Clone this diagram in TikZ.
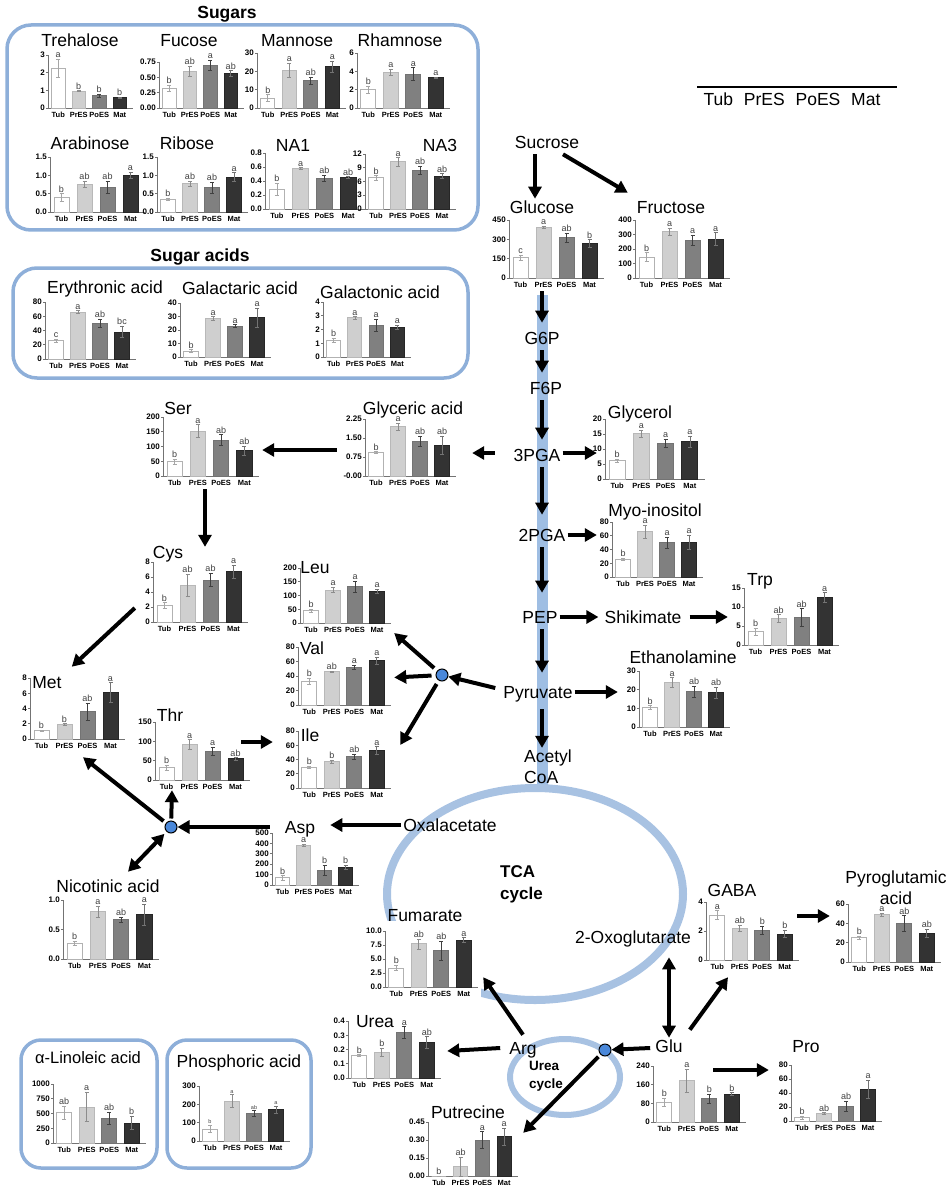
\documentclass[tikz,border=0pt]{standalone}
\usepackage{fontspec}
\setmainfont{Liberation Sans}
\usetikzlibrary{arrows.meta,positioning}

\definecolor{boxblue}{HTML}{8EAFD9}
\definecolor{bandblue}{HTML}{9FBEE3}
\definecolor{cycleblue}{HTML}{A8C2E2}
\definecolor{dotblue}{HTML}{4A88DA}

\tikzset{
  arr/.style={line width=4pt, -{Triangle[length=12pt,width=13pt]}},
  dblarr/.style={line width=4pt, {Triangle[length=12pt,width=13pt]}-{Triangle[length=12pt,width=13pt]}},
  metab/.style={font=\fontsize{17.5}{21}\selectfont, text height=12.5pt, text depth=3.7pt, inner sep=2pt},
  metabtwo/.style={font=\fontsize{17.5}{21}\selectfont, align=left, inner sep=2pt},
  grouptitle/.style={font=\bfseries\fontsize{17.5}{21}\selectfont, text height=12.5pt, text depth=3.7pt},
  groupbox/.style={draw=boxblue, line width=3.5pt, rounded corners=24pt},
  junction/.style={circle, draw=black, line width=1pt, fill=dotblue, minimum size=12pt, inner sep=0pt},
  chartbg/.style={inner sep=0pt},
  axisline/.style={draw=black!55, line width=0.7pt},
  ticklab/.style={font=\bfseries\fontsize{8}{9}\selectfont, anchor=east, inner sep=1pt},
  xlab/.style={font=\bfseries\fontsize{7.5}{9}\selectfont, inner sep=0pt},
  siglab/.style={font=\fontsize{9}{10}\selectfont, text=black!75, anchor=south, inner sep=1.2pt},
  bar0/.style={draw=black!30, fill=white, line width=0.8pt},
  bar1/.style={draw=black!28, fill=black!19, line width=0.8pt},
  bar2/.style={draw=black!55, fill=black!50, line width=0.8pt},
  bar3/.style={draw=black!85, fill=black!80, line width=0.8pt},
  err0/.style={draw=black!35, line width=0.6pt},
  err1/.style={draw=black!45, line width=0.6pt},
  err2/.style={draw=black!75, line width=0.6pt},
  err3/.style={draw=black!55, line width=0.6pt},
}

% [opts]{name}{axis origin}{width}{height}{max}{ticks}{bars: value/error/letter}
\newcommand{\barchart}[8][]{%
  \begin{scope}[shift={#3},#1]
    \def\cW{#4}\def\cH{#5}\def\cM{#6}
    \node[chartbg, minimum width={(#4+28)*1pt}, minimum height={(#5+23)*1pt}] (#2) at ({(#4-16)/2},{(3-#5)/2}) {};
    \draw[axisline] (0,-\cH) -- (0,0) -- (\cW+3,0);
    \foreach \tv/\tl in {#7}{
      \draw[axisline] (0,{0-\tv/\cM*\cH}) -- (-2,{0-\tv/\cM*\cH});
      \node[ticklab] at (-2,{0-\tv/\cM*\cH}) {\tl};
    }
    \foreach \bv/\be/\bl [count=\bi from 0] in {#8}{
      \pgfmathsetmacro\barX{(\bi+0.5)*\cW/4}
      \pgfmathsetmacro\barW{0.33*\cW/4}
      \pgfmathsetmacro\barH{\bv/\cM*\cH}
      \pgfmathsetmacro\errT{(\bv+\be)/\cM*\cH}
      \pgfmathsetmacro\errB{(\bv-\be)/\cM*\cH}
      \draw[bar\bi] ({\barX-\barW},0) rectangle ({\barX+\barW},{0-\barH});
      \draw[err\bi] (\barX,{0-(\errB)}) -- (\barX,{0-(\errT)})
        ({\barX-2},{0-(\errT)}) -- ({\barX+2},{0-(\errT)})
        ({\barX-2},{0-(\errB)}) -- ({\barX+2},{0-(\errB)});
      \node[siglab] at (\barX,{0-(\errT)}) {\bl};
    }
    \foreach \xl [count=\bi from 0] in {Tub,PrES,PoES,Mat}
      \node[xlab] at ({(\bi+0.5)*\cW/4},7) {\xl};
  \end{scope}}

\begin{document}
\begin{tikzpicture}[x=1pt,y=-1pt]
\useasboundingbox (0,0) rectangle (952,1190);

% group boxes, glycolysis band and cycles
\draw[groupbox] (7,25) rectangle (478,230);
\draw[groupbox] (13,268) rectangle (468,378);
\draw[groupbox, rounded corners=20pt] (21,1040) rectangle (157,1168);
\draw[groupbox, rounded corners=20pt] (167,1040) rectangle (311,1168);
\fill[bandblue] (537,295) rectangle (548,790);
\draw[cycleblue, line width=8pt] (535,894) ellipse [x radius=148pt, y radius=106pt];
\draw[cycleblue, line width=6pt] (565,1077) ellipse [x radius=55pt, y radius=38pt];

\node[grouptitle] (sugars) at (227,14) {Sugars};
\node[grouptitle] (sugaracids) at (200,257) {Sugar acids};

% charts
\barchart{treh}{(48,108)}{82}{53}{3}{0/0,1/1,2/2,3/3}{2.25/0.5/a,0.95/0.03/b,0.7/0.08/b,0.58/0.04/b}
\barchart{fuc}{(159,108)}{82}{46}{0.75}{0/0.00,0.25/0.25,0.5/0.50,0.75/0.75}{0.32/0.05/b,0.6/0.08/ab,0.7/0.08/a,0.56/0.05/ab}
\barchart{man}{(257,108)}{86}{55}{30}{0/0,10/10,20/20,30/30}{5.5/1.8/b,20.5/4/a,15/2/ab,22.5/3/a}
\barchart{rham}{(357,108)}{90}{55}{6}{0/0,2/2,4/4,6/6}{2.0/0.35/b,3.9/0.35/a,3.7/0.7/a,3.3/0.1/a}
\barchart{arab}{(50,212)}{92}{55}{1.5}{0/0.0,0.5/0.5,1/1.0,1.5/1.5}{0.4/0.1/b,0.76/0.08/ab,0.68/0.17/ab,1.0/0.08/a}
\barchart{rib}{(157,212)}{88}{55}{1.5}{0/0.0,0.5/0.5,1/1.0,1.5/1.5}{0.35/0.03/b,0.77/0.07/ab,0.66/0.15/ab,0.95/0.12/a}
\barchart{naone}{(265,209)}{95}{56}{0.8}{0/0.0,0.2/0.2,0.4/0.4,0.6/0.6,0.8/0.8}{0.28/0.09/b,0.58/0.01/a,0.44/0.04/ab,0.45/0.01/ab}
\barchart{nathree}{(365,209)}{88}{55}{12}{0/0,3/3,6/6,9/9,12/12}{6.8/0.5/b,10.3/0.9/a,8.5/0.9/ab,7.2/0.5/ab}
\barchart{ery}{(45,359)}{88}{57}{80}{0/0,20/20,40/40,60/60,80/80}{26/2/c,66/2/a,50/6/ab,38/8/bc}
\barchart{galr}{(180,357)}{88}{54}{40}{0/0,10/10,20/20,30/30,40/40}{4.5/1/b,28.5/1.5/a,23/1/a,29/7/a}
\barchart{galn}{(323,357)}{85}{55}{4}{0/0,1/1,2/2,3/3,4/4}{1.2/0.15/b,2.85/0.08/a,2.3/0.45/a,2.15/0.15/a}
\barchart{glc}{(509,278)}{92}{58}{450}{0/0,150/150,300/300,450/450}{160/20/c,395/8/a,312/35/ab,268/30/b}
\barchart{fru}{(635,278)}{92}{58}{400}{0/0,100/100,200/200,300/300,400/400}{145/30/b,320/25/a,262/35/a,268/45/a}
\barchart{glyac}{(365,476)}{88}{57}{2.25}{0/-0.00,0.75/0.75,1.5/1.50,2.25/2.25}{0.92/0.04/b,1.95/0.15/a,1.38/0.2/ab,1.22/0.35/ab}
\barchart{ser}{(163,476)}{93}{59}{200}{0/0,50/50,100/100,150/150,200/200}{48/8/b,152/22/a,122/18/ab,86/15/ab}
\barchart{glyol}{(605,479)}{97}{60}{20}{0/0,5/5,10/10,15/15,20/20}{6.2/0.5/b,15.2/1.2/a,12/1.3/a,12.5/1.8/a}
\barchart{myo}{(612,577)}{88}{55}{80}{0/0,20/20,40/40,60/60,80/80}{26/1.5/b,66/9/a,50/8/a,51/10/a}
\barchart{trp}{(744,645)}{92}{57}{15}{0/0,5/5,10/10,15/15}{3.5/1/b,7/1/ab,7.3/2.3/ab,12.5/1.3/a}
\barchart{etha}{(639,727)}{88}{56}{30}{0/0,10/10,20/20,30/30}{10.5/1/b,24/2.5/a,19/3/ab,18.5/3/ab}
\barchart{cys}{(153,622)}{92}{60}{8}{0/0,2/2,4/4,6/6,8/8}{2.2/0.4/b,4.9/1.5/ab,5.6/0.9/ab,6.7/0.9/a}
\barchart{met}{(30,739)}{92}{61}{8}{0/0,2/2,4/4,6/6,8/8}{1.1/0.1/b,1.9/0.1/b,3.6/1.1/ab,6.1/1.3/a}
\barchart{thr}{(155,780)}{92}{58}{150}{0/0,50/50,100/100,150/150}{32/6/b,92/12/a,75/10/a,55/3/ab}
\barchart{leu}{(300,623)}{88}{55}{200}{0/0,50/50,100/100,150/150,200/200}{45/5/b,120/10/a,133/20/a,115/8/a}
\barchart{val}{(298,705)}{90}{58}{80}{0/0,20/20,40/40,60/60,80/80}{33/4/b,46/1/ab,52/3/a,61/5/a}
\barchart{ile}{(298,788)}{90}{57}{80}{0/0,20/20,40/40,60/60,80/80}{29/1.5/b,37/2/b,44/4/ab,53/5/a}
\barchart{asp}{(272,885)}{84}{52}{500}{0/0,100/100,200/200,300/300,400/400,500/500}{70/20/b,380/10/a,140/50/b,170/20/b}
\barchart{nico}{(63,959)}{93}{59}{1}{0/0.0,0.5/0.5,1/1.0}{0.27/0.03/b,0.8/0.1/a,0.67/0.04/ab,0.75/0.18/a}
\barchart{lino}{(53,1143)}{90}{59}{1000}{0/0,250/250,500/500,750/750,1000/1000}{520/110/ab,610/250/a,420/100/ab,340/110/b}
\barchart[siglab/.append style={font=\fontsize{5.5}{6}\selectfont}]{phos}{(199,1141)}{88}{55}{300}{0/0,100/100,200/200,300/300}{65/20/b,218/35/a,150/15/ab,172/20/a}
\barchart[chartbg/.append style={fill=white}]{fum}{(385,987)}{90}{56}{10}{0/0.0,2.5/2.5,5/5.0,7.5/7.5,10/10.0}{3.4/0.5/b,7.7/0.9/ab,6.5/1.7/ab,8.4/0.4/a}
\barchart{urea}{(348,1078)}{90}{57}{0.4}{0/0.0,0.1/0.1,0.2/0.2,0.3/0.3,0.4/0.4}{0.16/0.005/b,0.18/0.03/b,0.32/0.04/a,0.25/0.04/ab}
\barchart{put}{(428,1176)}{87}{54}{0.45}{0/0.00,0.15/0.15,0.3/0.30,0.45/0.45}{0/0/b,0.08/0.08/ab,0.3/0.07/a,0.33/0.07/a}
\barchart{gaba}{(706,960)}{90}{58}{4}{0/0,2/2,4/4}{3.1/0.3/a,2.2/0.2/ab,2.05/0.3/b,1.8/0.25/b}
\barchart{pyro}{(848,962)}{90}{58}{60}{0/0,20/20,40/40,60/60}{25/2/b,49/1.5/a,40/8/ab,30/4/ab}
\barchart{gluc}{(653,1122)}{90}{56}{240}{0/0,80/80,160/160,240/240}{85/18/b,178/50/a,100/20/b,120/6/b}
\barchart{pro}{(791,1121)}{88}{56}{80}{0/0,20/20,40/40,60/60,80/80}{5/2/b,11/1/ab,21/7/ab,45/13/a}

% chart titles
\node[metab] (treh-t) at (80,42) {Trehalose};
\node[metab] (fuc-t) at (189,42) {Fucose};
\node[metab] (man-t) at (297,42) {Mannose};
\node[metab] (rham-t) at (400,42) {Rhamnose};
\node[metab] (arab-t) at (90,145) {Arabinose};
\node[metab] (rib-t) at (187,145) {Ribose};
\node[metab] (naone-t) at (293,147) {NA1};
\node[metab] (nathree-t) at (440,147) {NA3};
\node[metab] (ery-t) at (105,289) {Erythronic acid};
\node[metab] (galr-t) at (240,290) {Galactaric acid};
\node[metab] (galn-t) at (380,294) {Galactonic acid};
\node[metab] (glc-t) at (542,209) {Glucose};
\node[metab] (fru-t) at (671,209) {Fructose};
\node[metab] (glyac-t) at (413,410) {Glyceric acid};
\node[metab] (ser-t) at (178,410) {Ser};
\node[metab] (glyol-t) at (640,414) {Glycerol};
\node[metab] (myo-t) at (655,512) {Myo-inositol};
\node[metab] (trp-t) at (760,581) {Trp};
\node[metab] (etha-t) at (683,659) {Ethanolamine};
\node[metab] (cys-t) at (168,554) {Cys};
\node[metab] (met-t) at (47,684) {Met};
\node[metab] (thr-t) at (170,717) {Thr};
\node[metab] (leu-t) at (315,569) {Leu};
\node[metab] (val-t) at (312,650) {Val};
\node[metab] (ile-t) at (310,737) {Ile};
\node[metab] (asp-t) at (300,829) {Asp};
\node[metab] (nico-t) at (108,888) {Nicotinic acid};
\node[metab, font=\fontsize{16.5}{20}\selectfont] (lino-t) at (88,1059) {α-Linoleic acid};
\node[metab] (phos-t) at (239,1063) {Phosphoric acid};
\node[metab] (fum-t) at (425,917) {Fumarate};
\node[metab] (urea-t) at (375,1023) {Urea};
\node[metab] (put-t) at (468,1114) {Putrecine};
\node[metab] (gaba-t) at (732,892) {GABA};
\node[metabtwo, align=center] (pyro-t) at (896,888) {Pyroglutamic\\acid};
\node[metab] (pro-t) at (806,1048) {Pro};

% pathway labels
\coordinate (band) at (542,300);
\node[metab] (sucrose) at (547,144) {Sucrose};
\node[metab] (g6p) at (542,340) {G6P};
\node[metab] (f6p) at (546,390) {F6P};
\node[metab] (pga3) at (537,457) {3PGA};
\node[metab] (pga2) at (542,537) {2PGA};
\node[metab] (pep) at (540,619) {PEP};
\node[metab] (pyr) at (538,694) {Pyruvate};
\node[metabtwo, anchor=west] (acoa) at (522,767) {Acetyl\\CoA};
\node[metab] (shik) at (643,619) {Shikimate};
\node[metab] (oxa) at (450,827) {Oxalacetate};
\node[metabtwo, font=\bfseries\fontsize{17}{22}\selectfont, anchor=west] (tca) at (498,884) {TCA\\cycle};
\node[metab] (oxo) at (633,939) {2-Oxoglutarate};
\node[metab] (glu) at (669,1048) {Glu};
\node[metab] (arg) at (523,1050) {Arg};
\node[metabtwo, font=\bfseries\fontsize{13.5}{18}\selectfont, anchor=west] (ucyc) at (527,1076) {Urea\\cycle};
\node[junction] (j1) at (442,675) {};
\node[junction] (j2) at (171,827) {};
\node[junction] (j3) at (605,1050) {};

% legend
\node[metab] (legend) at (792,101) {Tub\hspace{6pt} PrES\hspace{6pt} PoES\hspace{6pt} Mat};
\draw[line width=1.5pt] (697,87) -- (897,87);

% arrows
\draw[arr] ([xshift=-12pt]sucrose.south) -- ([xshift=-7pt]glc-t.north);
\draw[arr] ([xshift=16pt]sucrose.south) -- ([xshift=-7pt,yshift=6pt]fru-t.north west);
\draw[arr, shorten >=7pt] (glc.south -| band) -- (g6p.north -| band);
\draw[arr, shorten >=7pt] (g6p.south -| band) -- (f6p.north -| band);
\draw[arr, shorten >=7pt] (f6p.south -| band) -- (pga3.north -| band);
\draw[arr, shorten >=12pt] (pga3.south -| band) -- (pga2.north -| band);
\draw[arr, shorten >=16pt] (pga2.south -| band) -- (pep.north -| band);
\draw[arr, shorten >=11pt] (pep.south -| band) -- (pyr.north -| band);
\draw[arr, shorten <=5pt] (pyr.south -| band) -- (acoa.north -| band);
\draw[arr] ([yshift=4pt]pga3.east) -- ([xshift=14pt,yshift=-2.5pt]glyol.west);
\draw[arr, shorten <=16.7pt] ([yshift=4pt]pga3.west) -- ([xshift=13pt,yshift=-4pt]glyac.east);
\draw[arr] ([xshift=-6pt,yshift=-1pt]glyac.west) -- ([yshift=-2pt]ser.east);
\draw[arr] ([xshift=3.5pt]ser.south) -- ([xshift=14pt,yshift=5pt]cys.north);
\draw[arr] ([xshift=4pt,yshift=-14.5pt]cys.west) -- ([xshift=8pt,yshift=7pt]met-t.north east);
\draw[arr] ([yshift=2pt]pga2.east) -- ([xshift=7pt,yshift=16pt]myo.west);
\draw[arr, shorten >=4pt] ([yshift=2pt]pep.east) -- ([yshift=2pt]shik.west);
\draw[arr, shorten <=6pt] ([yshift=2pt]shik.east) -- ([xshift=6pt,yshift=1pt]trp.west);
\draw[arr] ([yshift=2pt]pyr.east) -- ([xshift=1pt,yshift=8.5pt]etha.west);
\draw[arr] ([xshift=-6pt,yshift=6pt]pyr.west) -- (j1);
\draw[arr, shorten <=4pt] (j1) -- ([yshift=-36pt]leu.east);
\draw[arr, shorten <=4pt] (j1) -- (val.east);
\draw[arr, shorten <=4pt] (j1) -- ([xshift=6pt,yshift=16pt]ile.east);
\draw[arr] ([xshift=-12pt,yshift=10.5pt]thr.east) -- ([xshift=-3pt,yshift=19pt]ile.west);
\draw[arr] ([yshift=2pt]oxa.west) -- ([xshift=13pt,yshift=4pt]asp-t.east);
\draw[arr] ([xshift=-13pt,yshift=2pt]asp-t.west) -- (j2);
\draw[arr, shorten <=2pt] (j2) -- ([xshift=-21pt,yshift=3pt]thr.south);
\draw[arr, shorten <=3pt] (j2) -- ([xshift=15pt,yshift=-5pt]met.south);
\draw[dblarr, shorten <=3pt] (j2) -- ([xshift=20pt,yshift=6pt]nico-t.north);
\draw[dblarr, shorten <=8pt] (glu.north |- oxo.south) -- (glu.north);
\draw[arr] ([xshift=5pt,yshift=8pt]glu.north east) -- ([xshift=-15pt,yshift=-4pt]gaba.south);
\draw[arr] ([xshift=-5pt,yshift=16.5pt]gaba.east) -- ([xshift=4pt,yshift=18.5pt]pyro.west);
\draw[arr] ([xshift=-3pt]glu.west) -- (j3);
\draw[arr, shorten <=3pt] (j3) -- ([xshift=2pt,yshift=-21pt]put.north east);
\draw[arr] ([yshift=5pt]arg.north) -- ([xshift=2pt,yshift=23pt]fum.south east);
\draw[arr] ([xshift=-7pt,yshift=2pt]arg.west) -- ([xshift=3pt]urea.east);
\draw[arr] ([xshift=-36pt,yshift=25.5pt]gluc.east) -- ([yshift=24.5pt]pro.west);
\end{tikzpicture}
\end{document}
